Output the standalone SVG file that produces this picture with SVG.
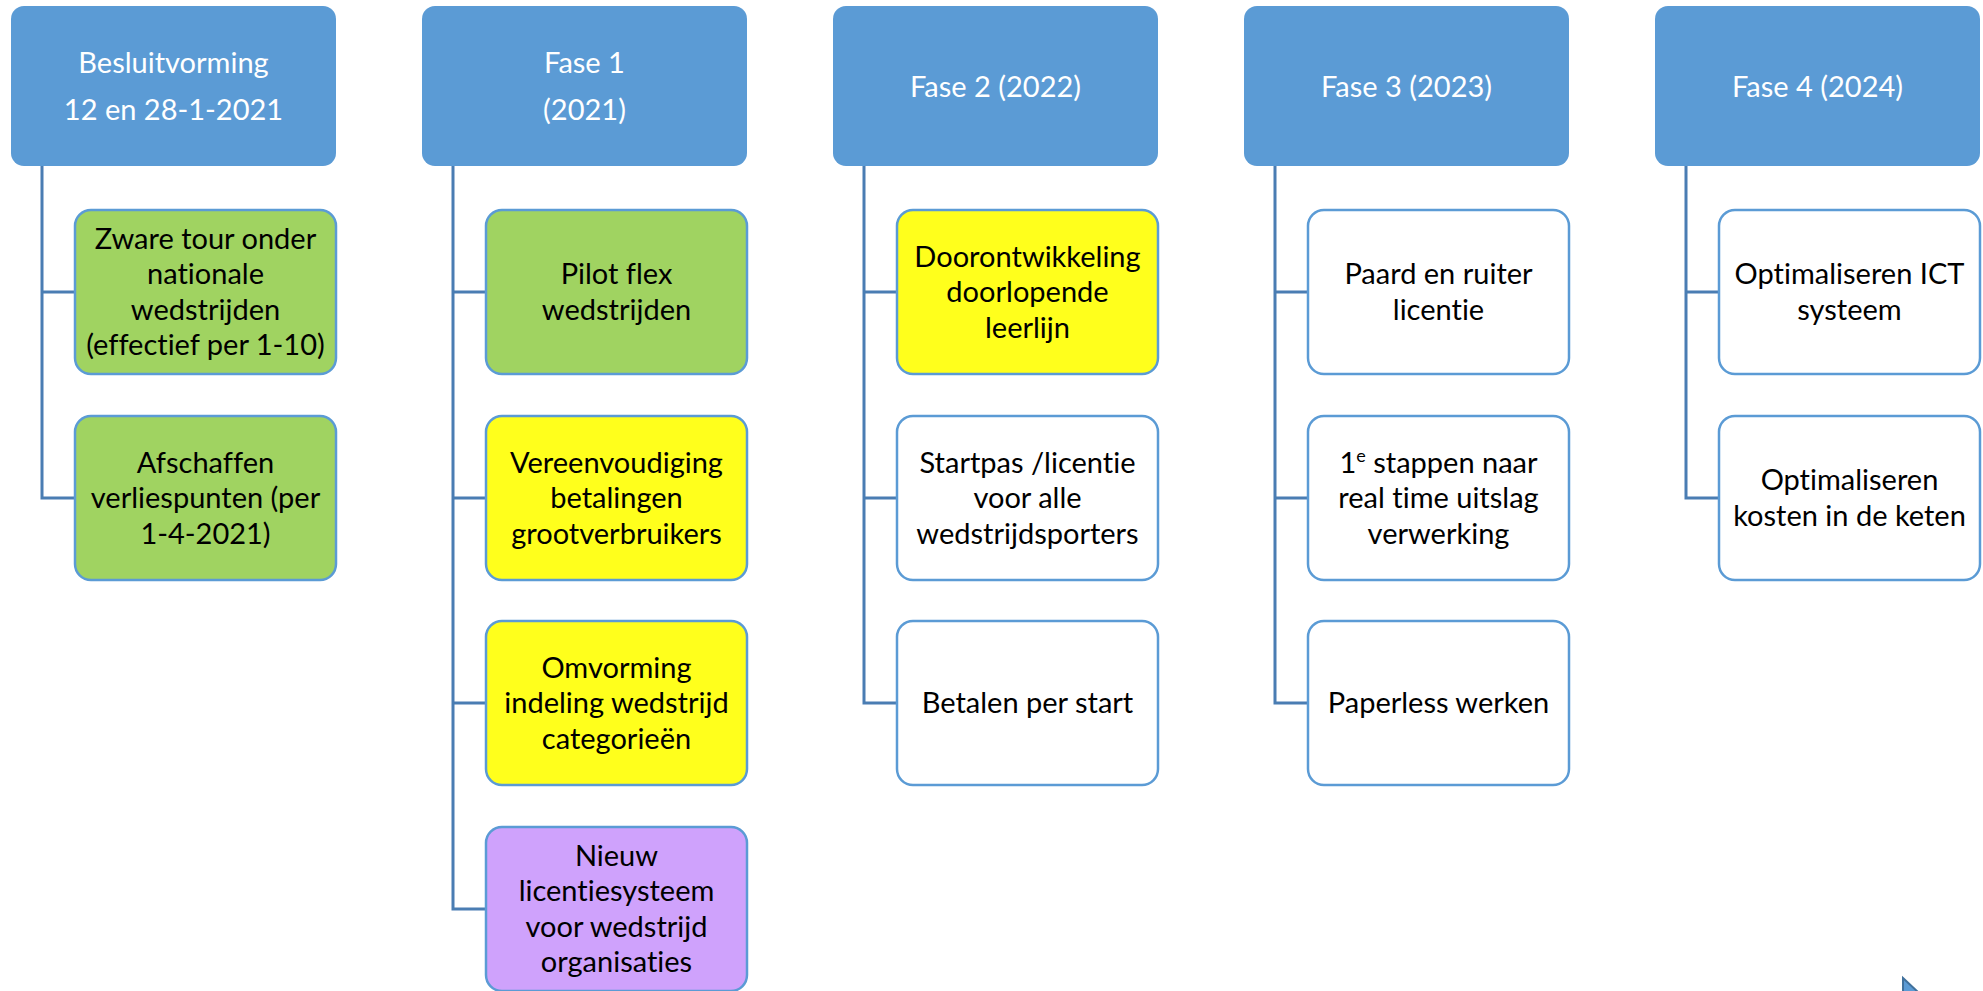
<svg xmlns="http://www.w3.org/2000/svg" width="1983" height="991" viewBox="0 0 1983 991">
<style>
.hd{fill:#5B9BD5;}
.ht{fill:#FFFFFF;font-family:Lato,"Open Sans","Liberation Sans",sans-serif;font-size:29px;text-anchor:middle;font-variant-ligatures:none;}
.bx{stroke:#5B9BD5;stroke-width:2.5;}
.g{fill:#A0D361;}
.y{fill:#FFFF1C;}
.p{fill:#CFA2FC;}
.w{fill:#FFFFFF;}
.t{fill:#000000;font-family:Lato,"Open Sans","Liberation Sans",sans-serif;font-size:29px;text-anchor:middle;font-variant-ligatures:none;}
.cn{fill:none;stroke:#4A7DB3;stroke-width:3;}
</style>
<rect width="1983" height="991" fill="#FFFFFF"/>
<g id="connectors">
<path class="cn" d="M42,166 V498 H75 M42,292 H75"/>
<path class="cn" d="M453,166 V909 H486 M453,292 H486 M453,498 H486 M453,703 H486"/>
<path class="cn" d="M864,166 V703 H897 M864,292 H897 M864,498 H897"/>
<path class="cn" d="M1275,166 V703 H1308 M1275,292 H1308 M1275,498 H1308"/>
<path class="cn" d="M1686,166 V498 H1719 M1686,292 H1719"/>
</g>
<g id="h1"><rect class="hd" x="11" y="6" width="325" height="160" rx="13"/><text class="ht"><tspan x="173.5" y="73">Besluitvorming</tspan><tspan x="173.5" y="120">12 en 28-1-2021</tspan></text></g>
<g id="h2"><rect class="hd" x="422" y="6" width="325" height="160" rx="13"/><text class="ht"><tspan x="584.5" y="73">Fase 1</tspan><tspan x="584.5" y="120">(2021)</tspan></text></g>
<g id="h3"><rect class="hd" x="833" y="6" width="325" height="160" rx="13"/><text class="ht" x="995.5" y="97">Fase 2 (2022)</text></g>
<g id="h4"><rect class="hd" x="1244" y="6" width="325" height="160" rx="13"/><text class="ht" x="1406.5" y="97">Fase 3 (2023)</text></g>
<g id="h5"><rect class="hd" x="1655" y="6" width="325" height="160" rx="13"/><text class="ht" x="1817.5" y="97">Fase 4 (2024)</text></g>

<g id="c1a"><rect class="bx g" x="75" y="210" width="261" height="164" rx="16"/><text class="t"><tspan x="205.5" y="248.75">Zware tour onder</tspan><tspan x="205.5" y="284.25">nationale</tspan><tspan x="205.5" y="319.75">wedstrijden</tspan><tspan x="205.5" y="355.25">(effectief per 1-10)</tspan></text></g>
<g id="c1b"><rect class="bx g" x="75" y="416" width="261" height="164" rx="16"/><text class="t"><tspan x="205.5" y="472.5">Afschaffen</tspan><tspan x="205.5" y="508">verliespunten (per</tspan><tspan x="205.5" y="543.5">1-4-2021)</tspan></text></g>

<g id="c2a"><rect class="bx g" x="486" y="210" width="261" height="164" rx="16"/><text class="t"><tspan x="616.5" y="284.25">Pilot flex</tspan><tspan x="616.5" y="319.75">wedstrijden</tspan></text></g>
<g id="c2b"><rect class="bx y" x="486" y="416" width="261" height="164" rx="16"/><text class="t"><tspan x="616.5" y="472.5">Vereenvoudiging</tspan><tspan x="616.5" y="508">betalingen</tspan><tspan x="616.5" y="543.5">grootverbruikers</tspan></text></g>
<g id="c2c"><rect class="bx y" x="486" y="621" width="261" height="164" rx="16"/><text class="t"><tspan x="616.5" y="677.5">Omvorming</tspan><tspan x="616.5" y="713">indeling wedstrijd</tspan><tspan x="616.5" y="748.5">categorieën</tspan></text></g>
<g id="c2d"><rect class="bx p" x="486" y="827" width="261" height="164" rx="16"/><text class="t"><tspan x="616.5" y="865.75">Nieuw</tspan><tspan x="616.5" y="901.25">licentiesysteem</tspan><tspan x="616.5" y="936.75">voor wedstrijd</tspan><tspan x="616.5" y="972.25">organisaties</tspan></text></g>

<g id="c3a"><rect class="bx y" x="897" y="210" width="261" height="164" rx="16"/><text class="t"><tspan x="1027.5" y="266.5">Doorontwikkeling</tspan><tspan x="1027.5" y="302">doorlopende</tspan><tspan x="1027.5" y="337.5">leerlijn</tspan></text></g>
<g id="c3b"><rect class="bx w" x="897" y="416" width="261" height="164" rx="16"/><text class="t"><tspan x="1027.5" y="472.5">Startpas /licentie</tspan><tspan x="1027.5" y="508">voor alle</tspan><tspan x="1027.5" y="543.5">wedstrijdsporters</tspan></text></g>
<g id="c3c"><rect class="bx w" x="897" y="621" width="261" height="164" rx="16"/><text class="t" x="1027.5" y="713">Betalen per start</text></g>

<g id="c4a"><rect class="bx w" x="1308" y="210" width="261" height="164" rx="16"/><text class="t"><tspan x="1438.5" y="284.25">Paard en ruiter</tspan><tspan x="1438.5" y="319.75">licentie</tspan></text></g>
<g id="c4b"><rect class="bx w" x="1308" y="416" width="261" height="164" rx="16"/><text class="t"><tspan x="1438.5" y="472.5">1<tspan font-size="18" dy="-11">e</tspan><tspan dy="11"> stappen naar</tspan></tspan><tspan x="1438.5" y="508">real time uitslag</tspan><tspan x="1438.5" y="543.5">verwerking</tspan></text></g>
<g id="c4c"><rect class="bx w" x="1308" y="621" width="261" height="164" rx="16"/><text class="t" x="1438.5" y="713">Paperless werken</text></g>

<g id="c5a"><rect class="bx w" x="1719" y="210" width="261" height="164" rx="16"/><text class="t"><tspan x="1849.5" y="284.25">Optimaliseren ICT</tspan><tspan x="1849.5" y="319.75">systeem</tspan></text></g>
<g id="c5b"><rect class="bx w" x="1719" y="416" width="261" height="164" rx="16"/><text class="t"><tspan x="1849.5" y="490.25">Optimaliseren</tspan><tspan x="1849.5" y="525.75">kosten in de keten</tspan></text></g>

<polygon points="1903,978 1935,1008 1903,1038" fill="#5B9BD5" stroke="#41719C" stroke-width="2"/>
</svg>
